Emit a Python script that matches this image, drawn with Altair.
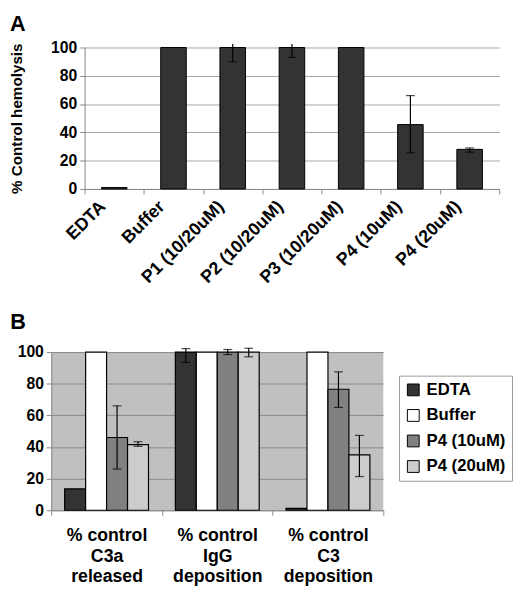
import altair as alt
import pandas as pd

FONT = "Liberation Sans"

# ---- Panel A data ----
a_categories = ["EDTA", "Buffer", "P1 (10/20uM)", "P2 (10/20uM)", "P3 (10/20uM)", "P4 (10uM)", "P4 (20uM)"]
a_values = [1, 100, 100, 100, 100, 45.5, 28]
a_err_low = [None, None, 90, 93, None, 25.5, 26]
a_err_high = [None, None, 102.5, 102.5, None, 66, 29]

# ---- Panel B data ----
b_groups = ["% control|C3a|released", "% control|IgG|deposition", "% control|C3|deposition"]
b_series = ["EDTA", "Buffer", "P4 (10uM)", "P4 (20uM)"]
b_colors = ["#333333", "#ffffff", "#808080", "#cccccc"]
b_edta = [13.5, 100, 1.2]
b_buffer = [100, 100, 100]
b_p4_10 = [46, 100, 76.5]
b_p4_20 = [41.5, 100, 35]
b_edta_lo = [None, 93.4, None]
b_edta_hi = [None, 102.2, None]
b_buffer_lo = [None, None, None]
b_buffer_hi = [None, None, None]
b_p4_10_lo = [26, 98.4, 65]
b_p4_10_hi = [66, 101.6, 87.5]
b_p4_20_lo = [40.4, 97, 21.3]
b_p4_20_hi = [43.3, 102.4, 47.3]

y_ticks = [0, 20, 40, 60, 80, 100]

df_a = pd.DataFrame({"cat": a_categories, "val": a_values, "lo": a_err_low, "hi": a_err_high})

rows = []
for s, vals, los, his in zip(
    b_series,
    [b_edta, b_buffer, b_p4_10, b_p4_20],
    [b_edta_lo, b_buffer_lo, b_p4_10_lo, b_p4_20_lo],
    [b_edta_hi, b_buffer_hi, b_p4_10_hi, b_p4_20_hi],
):
    for g, v, lo, hi in zip(b_groups, vals, los, his):
        rows.append({"group": g, "series": s, "val": v, "lo": lo, "hi": hi})
df_b = pd.DataFrame(rows)

# ---- Panel A chart ----
xa_axis = alt.Axis(
    title=None, labelAngle=-45, labelAlign="right", labelBaseline="middle",
    labelFont=FONT, labelFontSize=18, labelFontWeight="bold", labelColor="black",
    labelPadding=10, labelOffset=-12, tickBand="extent", tickSize=5, tickColor="#888888",
    domainColor="#888888", labelLimit=300, grid=False,
)
xa = alt.X("cat:N", sort=a_categories, scale=alt.Scale(paddingInner=0, paddingOuter=0), axis=xa_axis)
xa_plain = alt.X("cat:N", sort=a_categories)
ya = alt.Y(
    "val:Q", scale=alt.Scale(domain=[0, 100], nice=False),
    axis=alt.Axis(
        values=y_ticks, tickCount=len(y_ticks), title="% Control hemolysis",
        titleFont=FONT, titleFontSize=15.5, titleFontWeight="bold", titleColor="black",
        titlePadding=23, minExtent=38, maxExtent=38, labelOverlap=False,
        labelFont=FONT, labelFontSize=16, labelFontWeight="bold", labelColor="black",
        labelPadding=3, tickSize=5, tickColor="#888888", domainColor="#888888",
        grid=True, gridColor="#a6a6a6",
    ),
)
bars_a = alt.Chart(df_a).mark_bar(size=26, color="#333333", stroke="black", strokeWidth=1).encode(x=xa, y=ya)
err_a = alt.Chart(df_a).transform_filter("isValid(datum.lo)").mark_rule(color="black", strokeWidth=1.2).encode(
    x=xa_plain, y="lo:Q", y2="hi:Q")
cap_lo_a = alt.Chart(df_a).transform_filter("isValid(datum.lo)").mark_tick(
    color="black", size=9, thickness=1.2).encode(x=xa_plain, y="lo:Q")
cap_hi_a = alt.Chart(df_a).transform_filter("isValid(datum.hi) && datum.hi <= 100").mark_tick(
    color="black", size=9, thickness=1.2).encode(x=xa_plain, y="hi:Q")

chart_a = alt.layer(bars_a, err_a, cap_lo_a, cap_hi_a).properties(
    width=422, height=144,
    title=alt.TitleParams("A", anchor="start", frame="bounds", font=FONT, fontSize=22,
                          fontWeight="bold", color="black", offset=4),
    view=alt.ViewBackground(stroke=None),
)

# ---- Panel B chart ----
xb = alt.X(
    "group:N", sort=b_groups, scale=alt.Scale(paddingInner=0, paddingOuter=0),
    axis=alt.Axis(
        title=None, labelAngle=0, labelExpr="split(datum.label, '|')",
        labelFont=FONT, labelFontSize=18, labelFontWeight="bold", labelColor="black",
        labelLineHeight=21, labelBaseline="top", labelPadding=12,
        tickBand="extent", tickSize=5, tickColor="#888888", domainColor="#888888", grid=False,
    ),
)
xb_plain = alt.X("group:N", sort=b_groups)
xoff = alt.XOffset("series:N", sort=b_series, scale=alt.Scale(paddingInner=0, paddingOuter=0.64))
yb = alt.Y(
    "val:Q", scale=alt.Scale(domain=[0, 100], nice=False),
    axis=alt.Axis(
        values=y_ticks, tickCount=len(y_ticks), title=None, labelOverlap=False,
        labelFont=FONT, labelFontSize=16, labelFontWeight="bold", labelColor="black",
        labelPadding=3, tickSize=5, tickColor="#888888", domainColor="#888888",
        grid=True, gridColor="#8a8a8a",
    ),
)
color_b = alt.Color(
    "series:N", sort=b_series, scale=alt.Scale(domain=b_series, range=b_colors),
    legend=alt.Legend(
        orient="none", legendX=397, legendY=334, title=None,
        symbolType="square", symbolSize=144, symbolStrokeColor="black", symbolStrokeWidth=1,
        labelFont=FONT, labelFontSize=17, labelFontWeight="bold", labelColor="black",
        labelOffset=5, rowPadding=8, padding=6, strokeColor="#999999", fillColor="white",
    ),
)
bars_b = alt.Chart(df_b).mark_bar(stroke="black", strokeWidth=1.2).encode(
    x=xb, xOffset=xoff, y=yb, color=color_b)
err_b = alt.Chart(df_b).transform_filter("isValid(datum.lo)").mark_rule(color="black", strokeWidth=1.2).encode(
    x=xb_plain, xOffset=xoff, y="lo:Q", y2="hi:Q")
cap_lo_b = alt.Chart(df_b).transform_filter("isValid(datum.lo)").mark_tick(
    color="black", size=9, thickness=1.2).encode(x=xb_plain, xOffset=xoff, y="lo:Q")
cap_hi_b = alt.Chart(df_b).transform_filter("isValid(datum.hi)").mark_tick(
    color="black", size=9, thickness=1.2).encode(x=xb_plain, xOffset=xoff, y="hi:Q")

chart_b = alt.layer(bars_b, err_b, cap_lo_b, cap_hi_b).properties(
    width=338, height=161,
    title=alt.TitleParams("B", anchor="start", frame="bounds", font=FONT, fontSize=22,
                          fontWeight="bold", color="black", offset=10, dx=-7),
    view=alt.ViewBackground(fill="#c0c0c0", stroke=None),
)

# tiny invisible spacers so that each panel is placed by its own left edge
spacer_df = pd.DataFrame({"z": [0]})


def spacer():
    return alt.Chart(spacer_df).mark_point(opacity=0, size=1).encode(
        x=alt.value(0), y=alt.value(0)).properties(width=1, height=1)


row_a = alt.hconcat(spacer(), chart_a, spacing=0)
row_b = alt.hconcat(spacer(), chart_b, spacing=0)

chart = alt.vconcat(row_a, row_b, spacing=25).properties(
    padding={"left": 0, "top": 0, "right": 0, "bottom": 0}
).configure_view(stroke=None)

chart.save("out.html", embed_options={"renderer": "svg", "actions": False})
